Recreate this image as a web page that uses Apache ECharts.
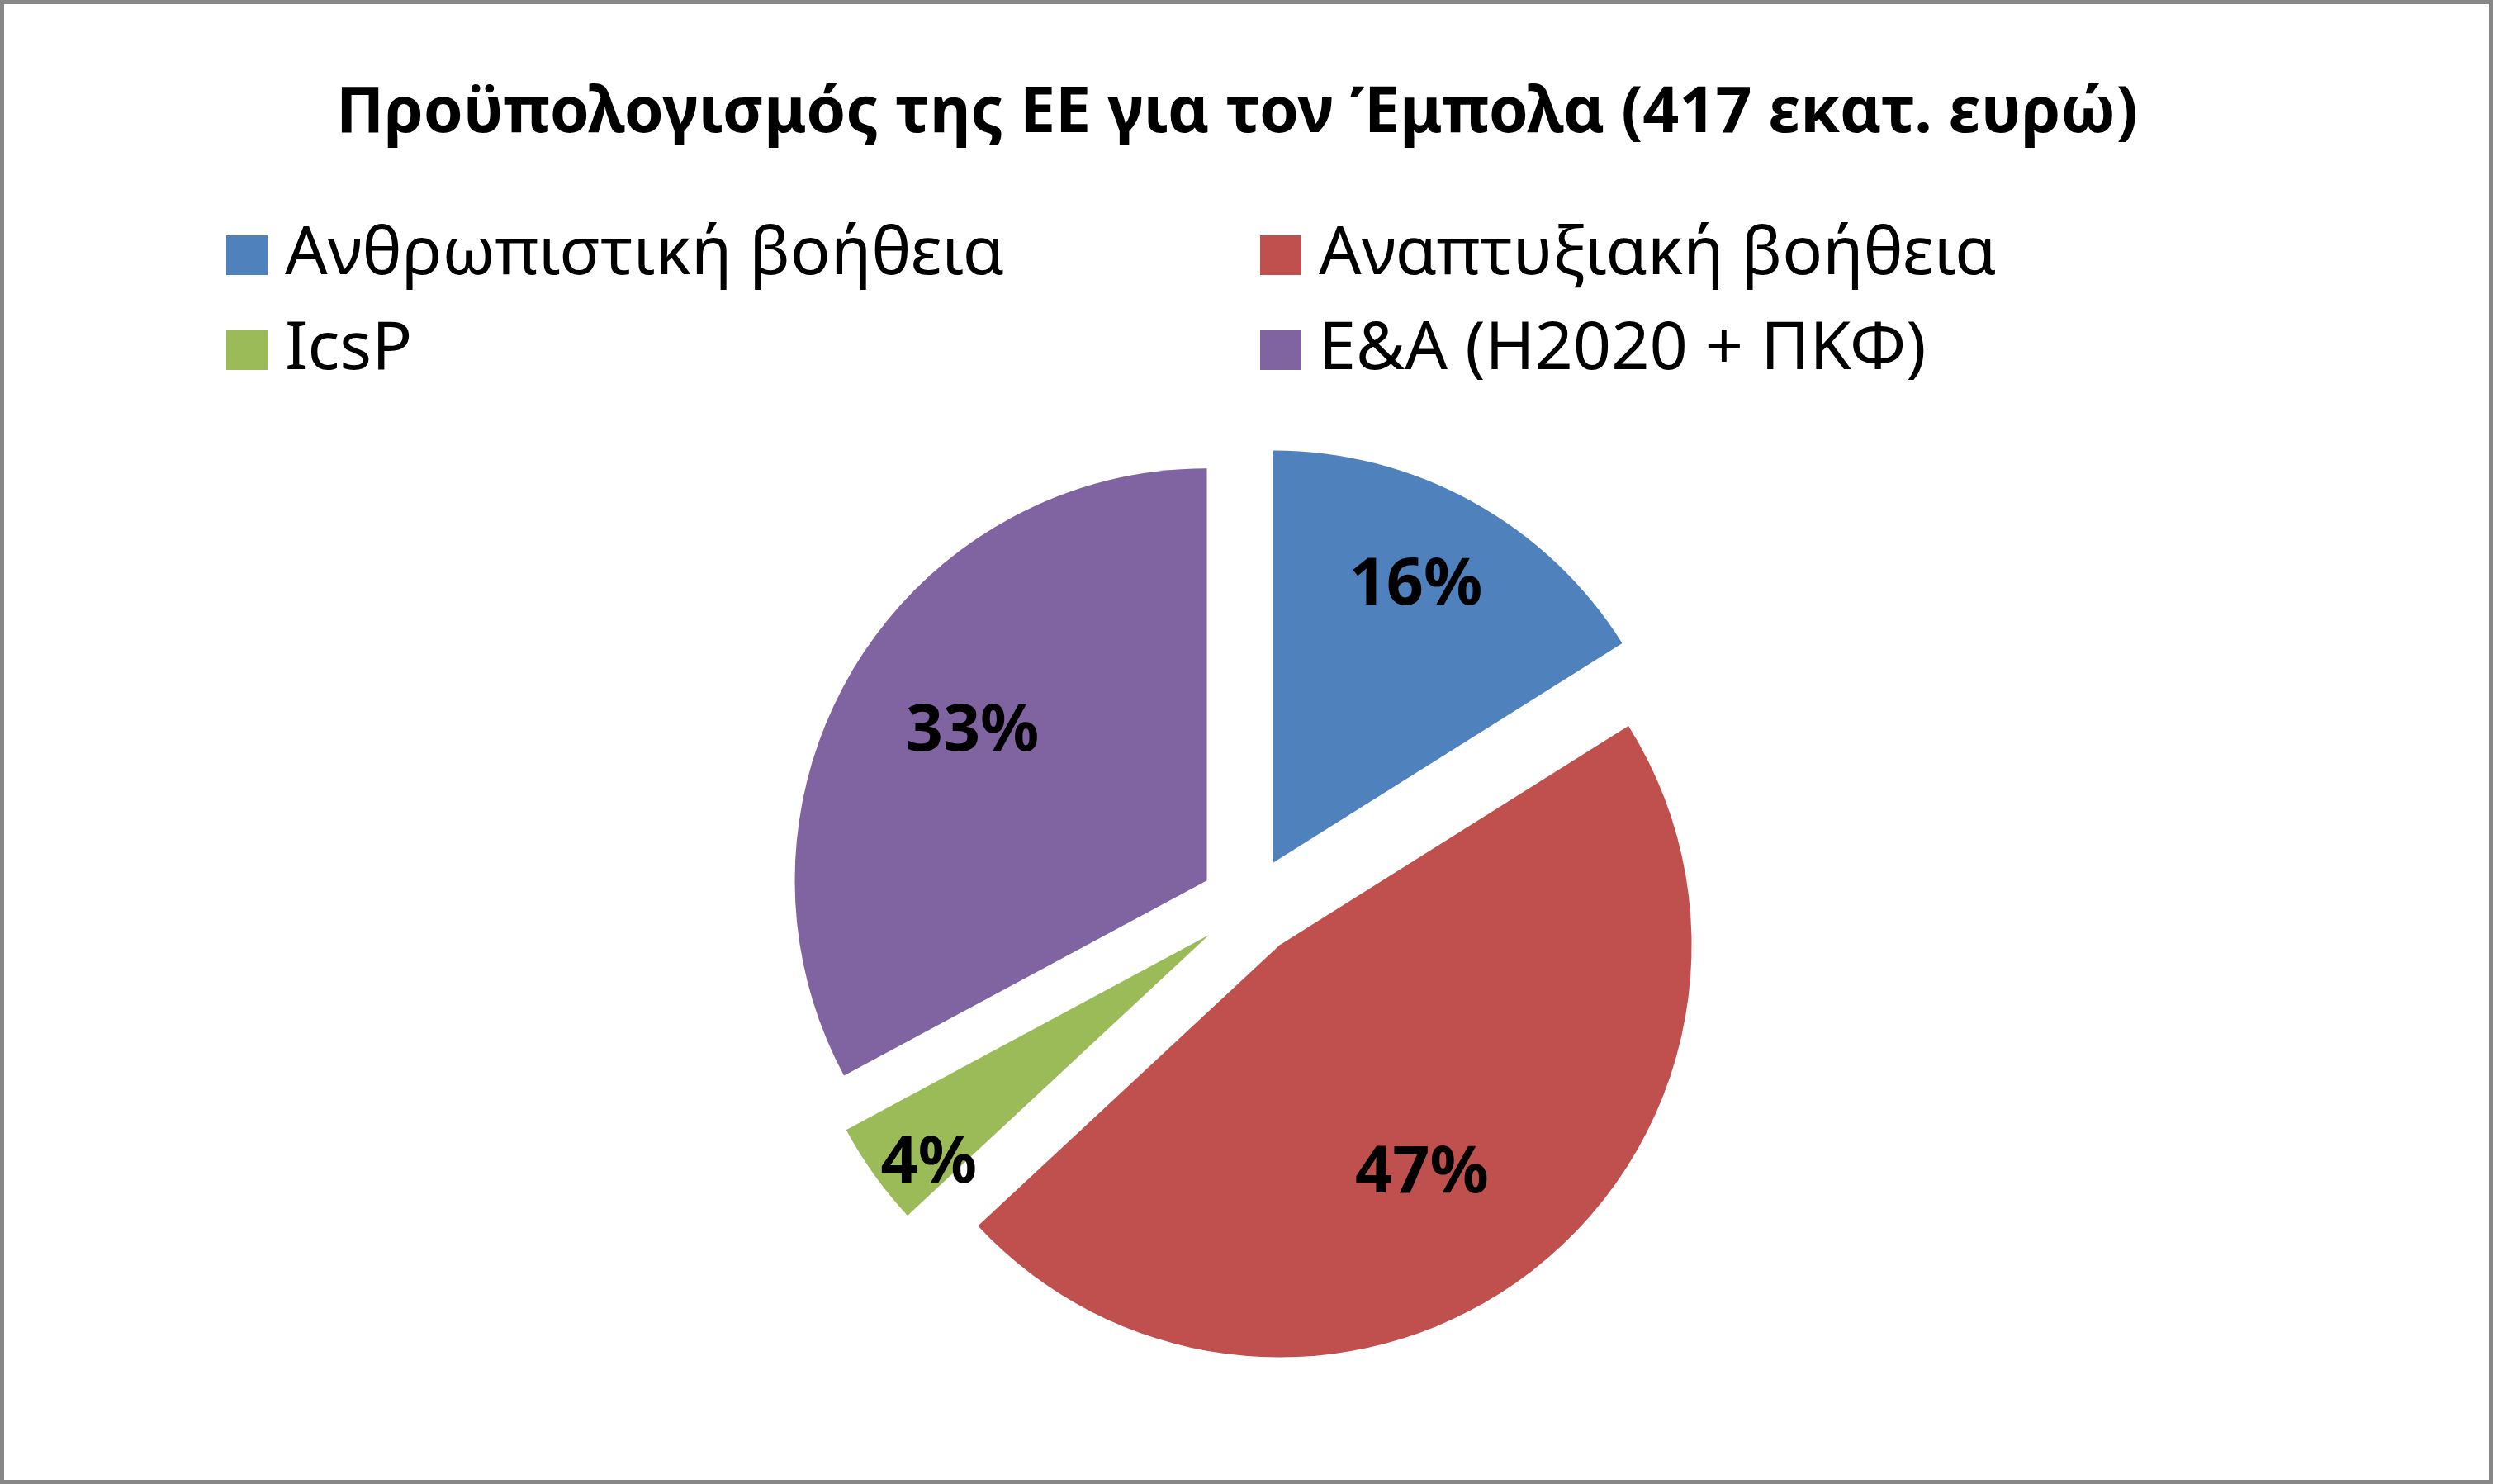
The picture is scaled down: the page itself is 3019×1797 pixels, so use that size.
<!DOCTYPE html>
<html>
<head>
<meta charset="utf-8">
<script src="https://cdn.jsdelivr.net/npm/echarts@6/dist/echarts.min.js"></script>
<style>
html, body { margin: 0; padding: 0; background: #fff; }
#main { width: 3019px; height: 1797px; box-sizing: border-box; border: 5px solid #878787; }
</style>
</head>
<body>
<div id="main"></div>
<script>
// Προϋπολογισμός ΕΕ για τον Έμπολα, εκατ. ευρώ
var names = ['Ανθρωπιστική βοήθεια', 'Αναπτυξιακή βοήθεια', 'IcsP', 'Ε&Α (Η2020 + ΠΚΦ)'];
var values = [67, 196, 17, 137];
var colors = ['#4f81bd', '#c0504d', '#9bbb59', '#8064a2'];
// πόσο μακριά από το κέντρο της φέτας μπαίνει η ετικέτα (κλάσμα ακτίνας) + μικρή διόρθωση
var labelRatio = [0.75, 0.656, 0.87, 0.671];
var labelNudge = [[-10, -5], [-29, 15], [16, 23], [6, -6]];

var R = 499;
var total = 0;
for (var i = 0; i < values.length; i++) total += values[i];
var midAngle = [];
var acc = 0;
for (var i = 0; i < values.length; i++) {
	midAngle.push((acc + values[i] / 2) / total * Math.PI * 2);
	acc += values[i];
}

var pieData = [];
for (var i = 0; i < values.length; i++) {
	pieData.push({
		name : names[i],
		value : values[i],
		selected : true,
		itemStyle : { color : colors[i] }
	});
}

var legendText = {
	fontFamily : 'Noto Sans',
	fontSize : 81,
	lineHeight : 88,
	color : '#000',
	padding : [ 0, 0, 0, 16 ]
};

var myChart = echarts.init(document.getElementById('main'));
var option = {
	backgroundColor : '#ffffff',
	animation : false,
	title : {
		text : 'Προϋπολογισμός της ΕΕ για τον Έμπολα (417 εκατ. ευρώ)',
		left : 402,
		top : 95,
		padding : 0,
		textStyle : {
			fontFamily : 'Noto Sans',
			fontWeight : 'bold',
			fontSize : 77,
			color : '#000'
		}
	},
	legend : [ {
		orient : 'vertical',
		left : 264,
		top : 255,
		itemWidth : 50,
		itemHeight : 48,
		itemGap : 27,
		icon : 'rect',
		selectedMode : false,
		data : [ names[0], names[2] ],
		textStyle : legendText
	}, {
		orient : 'vertical',
		left : 1516,
		top : 255,
		itemWidth : 50,
		itemHeight : 48,
		itemGap : 27,
		icon : 'rect',
		selectedMode : false,
		data : [ names[1], names[3] ],
		textStyle : legendText
	} ],
	series : [ {
		type : 'pie',
		center : [ 1508, 1092 ],
		radius : R,
		startAngle : 90,
		clockwise : true,
		selectedMode : 'multiple',
		selectedOffset : 60,
		percentPrecision : 0,
		emphasis : { disabled : true },
		select : { itemStyle : { borderWidth : 0 } },
		label : {
			show : true,
			position : 'inside',
			formatter : '{d}%',
			fontFamily : 'Noto Sans',
			fontWeight : 'bold',
			fontSize : 79,
			color : '#000'
		},
		labelLine : { show : false },
		labelLayout : function(params) {
			var i = params.dataIndex;
			var extra = (labelRatio[i] - 0.5) * R;
			return {
				dx : extra * Math.sin(midAngle[i]) + labelNudge[i][0],
				dy : -extra * Math.cos(midAngle[i]) + labelNudge[i][1]
			};
		},
		data : pieData
	} ]
};
myChart.setOption(option);
</script>
</body>
</html>
